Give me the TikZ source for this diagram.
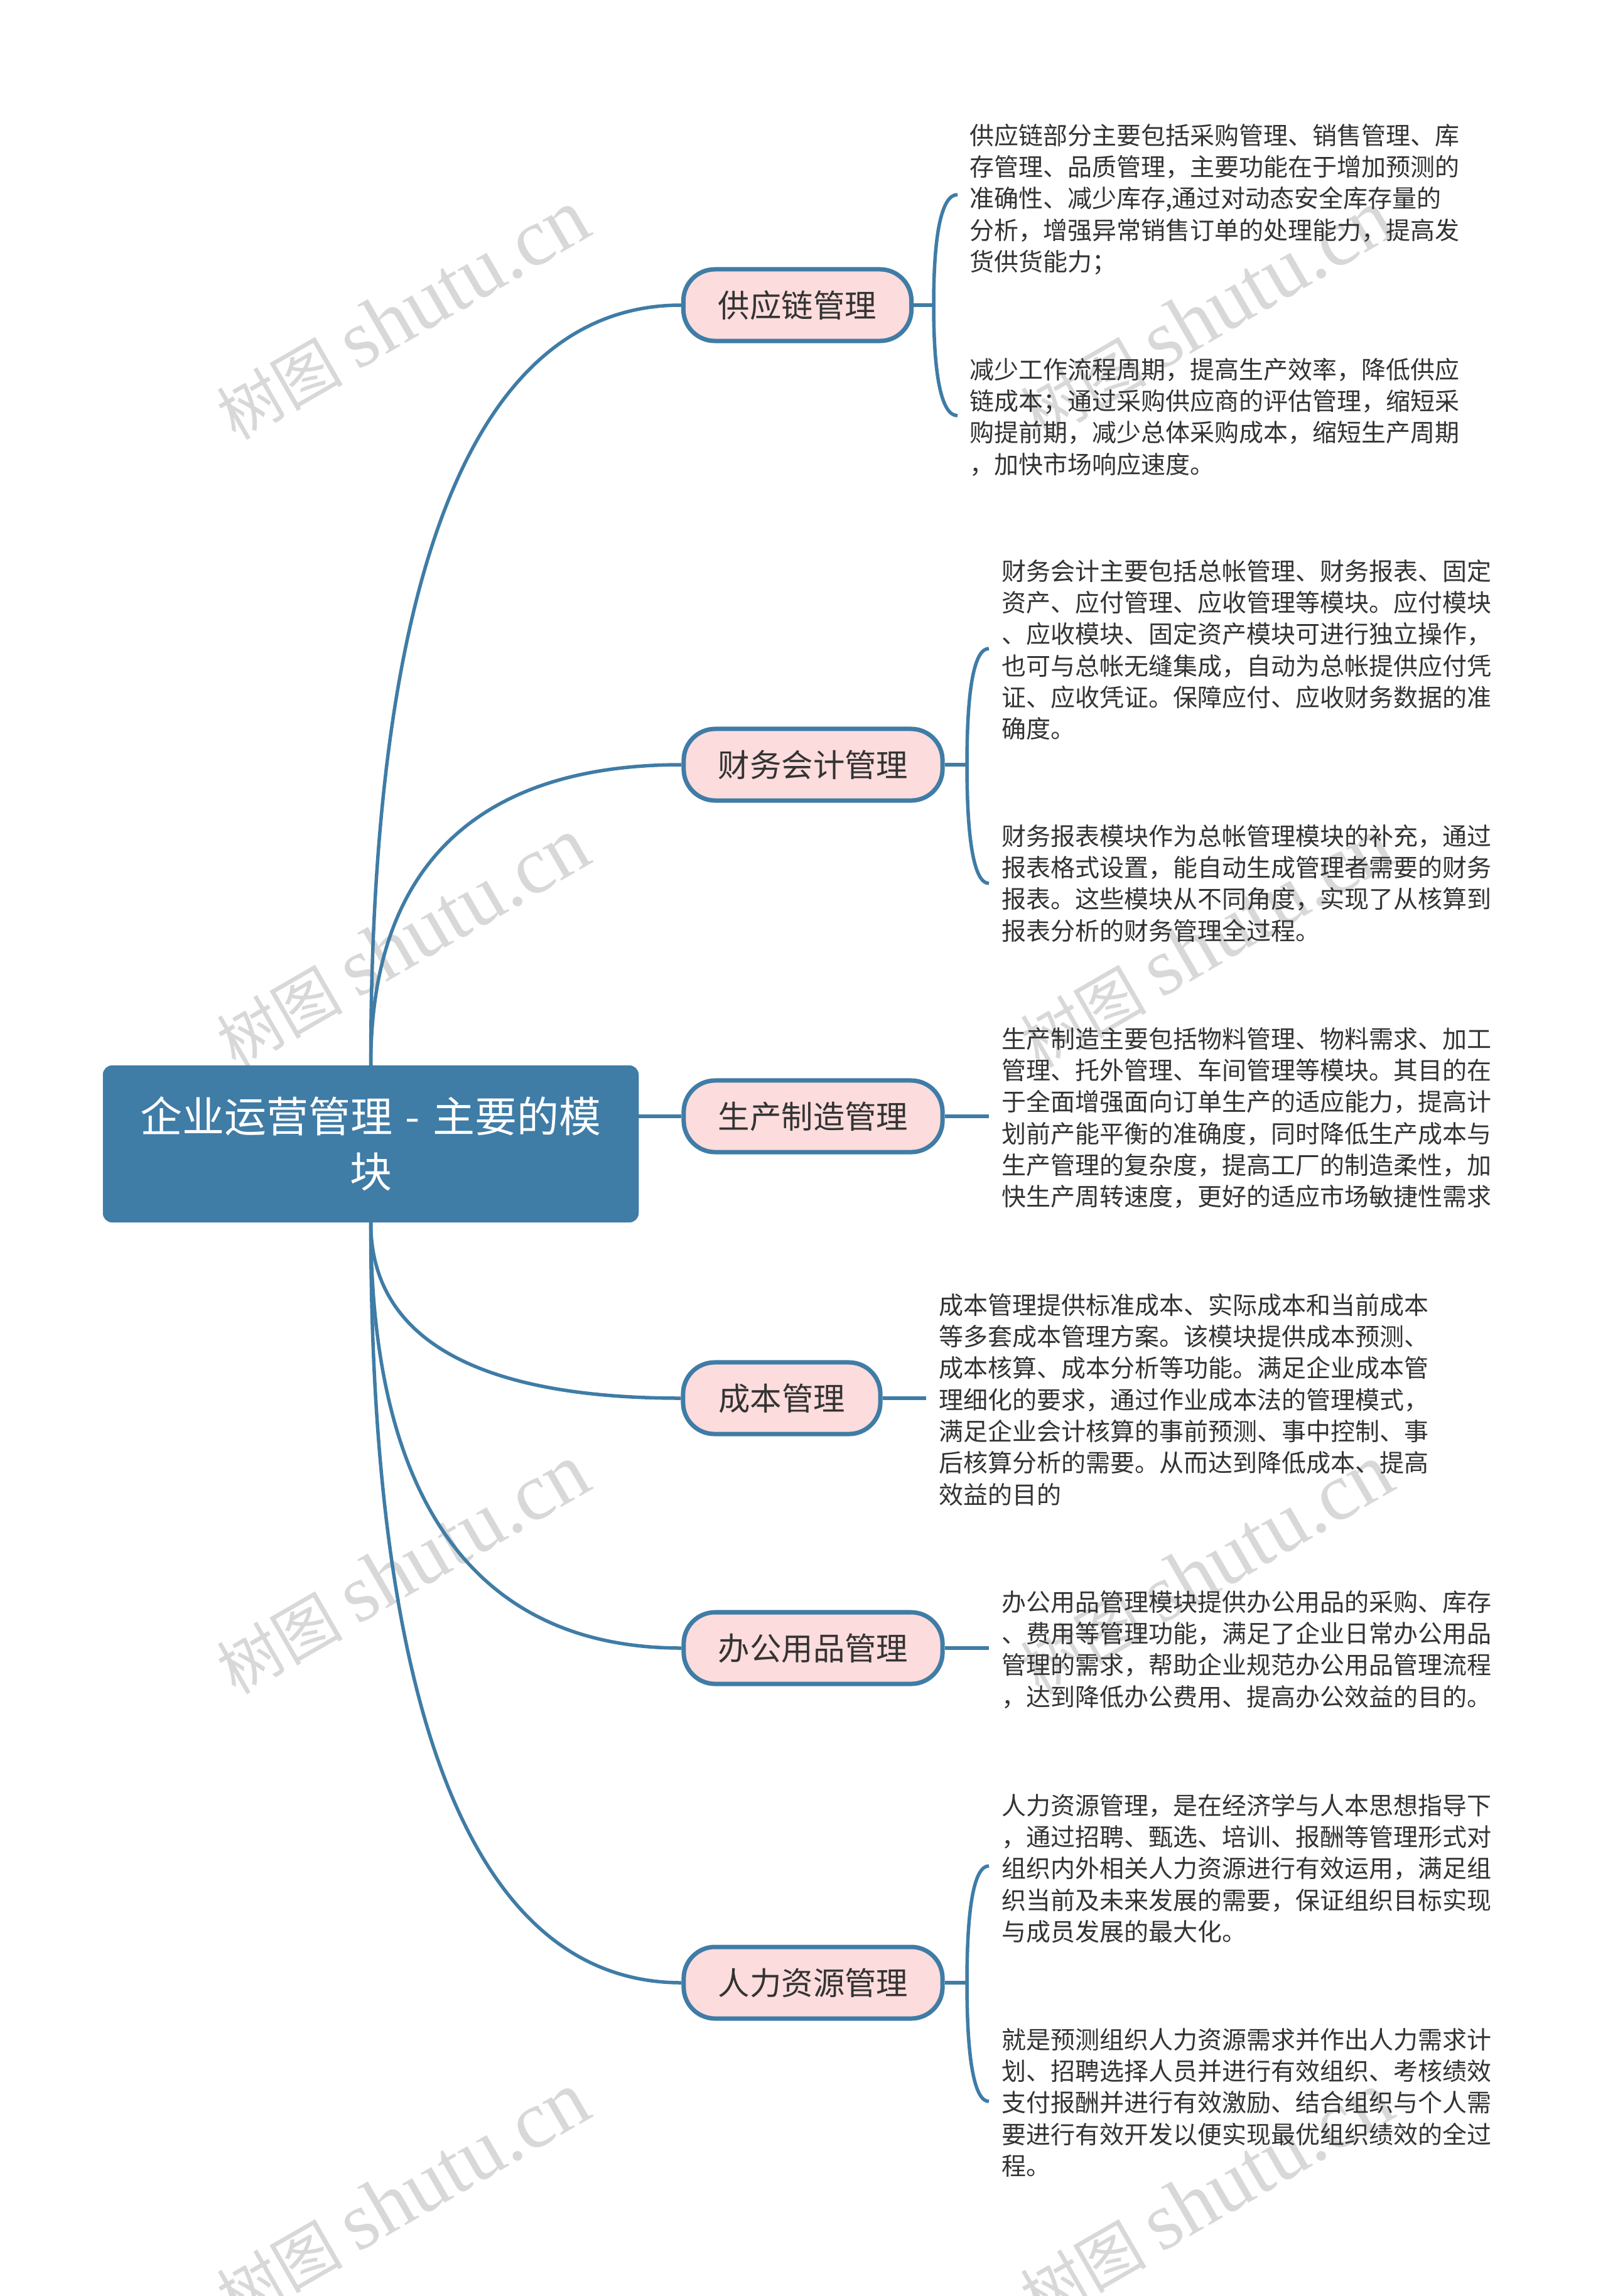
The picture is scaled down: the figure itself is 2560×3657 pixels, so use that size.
\documentclass[tikz,border=0pt]{standalone}
\usepackage{fontspec}
\setmainfont{Noto Sans CJK SC}
\newfontfamily\wmlatin{Liberation Serif}
\definecolor{linkblue}{HTML}{3F7CA6}
\definecolor{pinkfill}{HTML}{FCDCDC}
\definecolor{inkgrey}{HTML}{333333}
\definecolor{wmgrey}{HTML}{D8D8D8}
\newcommand{\firstline}{\rule{0pt}{12pt}}
\tikzset{
  rootbox/.style={rectangle,rounded corners=0.14cm,fill=linkblue,draw=linkblue,line width=0.02cm,
    minimum width=8.51cm,minimum height=2.48cm,inner sep=0pt,align=center,text=white,
    font=\fontsize{19.05pt}{25.04pt}\selectfont},
  branchbox/.style={rectangle,rounded corners=0.5cm,fill=pinkfill,draw=linkblue,line width=0.07cm,
    minimum height=1.14cm,inner sep=0pt,text=inkgrey,font=\fontsize{14.34pt}{18pt}\selectfont},
  leaftext/.style={anchor=north west,inner sep=0pt,outer sep=0pt,align=left,text=inkgrey,
    font=\fontsize{11.09pt}{14.31pt}\selectfont},
  curvelink/.style={draw=linkblue,line width=0.055cm},
  stublink/.style={draw=linkblue,line width=0.065cm},
  wmark/.style={anchor=base west,rotate=30,inner sep=0pt,text=wmgrey,font=\fontsize{28.6pt}{36pt}\selectfont},
}
\begin{document}
\begin{tikzpicture}[x=0.01cm,y=-0.01cm]
\useasboundingbox (0,0) rectangle (2560,3657);
\begin{scope}
\clip (0,0) rectangle (2560,3657);
\foreach \wx/\wn in {375/L,1655/R}{
  \foreach \wy/\wr in {703/a,1703/b,2701/c,3701/d}{
    \node[wmark,name=wm\wn\wr] at (\wx,\wy) {树图 {\wmlatin\fontsize{37pt}{40pt}\selectfont shutu.cn}};
  }
}
\end{scope}

\node[rootbox] (root) at (590.5,1822) {企业运营管理\hspace{0.05cm} - \hspace{0.05cm}主要的模\\块};

\node[branchbox,minimum width=3.63cm] (b1) at (1270,486) {供应链管理};
\node[branchbox,minimum width=4.12cm] (b2) at (1295,1218) {财务会计管理};
\node[branchbox,minimum width=4.12cm] (b3) at (1295,1778) {生产制造管理};
\node[branchbox,minimum width=3.14cm] (b4) at (1245,2227) {成本管理};
\node[branchbox,minimum width=4.12cm] (b5) at (1295,2625) {办公用品管理};
\node[branchbox,minimum width=4.12cm] (b6) at (1295,3158) {人力资源管理};

\node[leaftext] (l1a) at (1544,188) {\firstline 供应链部分主要包括采购管理、销售管理、库\\存管理、品质管理，主要功能在于增加预测的\\准确性、减少库存,通过对动态安全库存量的\\分析，增强异常销售订单的处理能力，提高发\\货供货能力；};
\node[leaftext] (l1b) at (1544,561) {\firstline 减少工作流程周期，提高生产效率，降低供应\\链成本；通过采购供应商的评估管理，缩短采\\购提前期，减少总体采购成本，缩短生产周期\\，加快市场响应速度。};
\node[leaftext] (l2a) at (1595,882) {\firstline 财务会计主要包括总帐管理、财务报表、固定\\资产、应付管理、应收管理等模块。应付模块\\、应收模块、固定资产模块可进行独立操作，\\也可与总帐无缝集成，自动为总帐提供应付凭\\证、应收凭证。保障应付、应收财务数据的准\\确度。};
\node[leaftext] (l2b) at (1595,1304) {\firstline 财务报表模块作为总帐管理模块的补充，通过\\报表格式设置，能自动生成管理者需要的财务\\报表。这些模块从不同角度，实现了从核算到\\报表分析的财务管理全过程。};
\node[leaftext] (l3) at (1595,1627) {\firstline 生产制造主要包括物料管理、物料需求、加工\\管理、托外管理、车间管理等模块。其目的在\\于全面增强面向订单生产的适应能力，提高计\\划前产能平衡的准确度，同时降低生产成本与\\生产管理的复杂度，提高工厂的制造柔性，加\\快生产周转速度，更好的适应市场敏捷性需求};
\node[leaftext] (l4) at (1495,2051) {\firstline 成本管理提供标准成本、实际成本和当前成本\\等多套成本管理方案。该模块提供成本预测、\\成本核算、成本分析等功能。满足企业成本管\\理细化的要求，通过作业成本法的管理模式，\\满足企业会计核算的事前预测、事中控制、事\\后核算分析的需要。从而达到降低成本、提高\\效益的目的};
\node[leaftext] (l5) at (1595,2524) {\firstline 办公用品管理模块提供办公用品的采购、库存\\、费用等管理功能，满足了企业日常办公用品\\管理的需求，帮助企业规范办公用品管理流程\\，达到降低办公费用、提高办公效益的目的。};
\node[leaftext] (l6a) at (1595,2848) {\firstline 人力资源管理，是在经济学与人本思想指导下\\，通过招聘、甄选、培训、报酬等管理形式对\\组织内外相关人力资源进行有效运用，满足组\\织当前及未来发展的需要，保证组织目标实现\\与成员发展的最大化。};
\node[leaftext] (l6b) at (1595,3221) {\firstline 就是预测组织人力资源需求并作出人力需求计\\划、招聘选择人员并进行有效组织、考核绩效\\支付报酬并进行有效激励、结合组织与个人需\\要进行有效开发以便实现最优组织绩效的全过\\程。};

% root to branches
\draw[curvelink] (root.north) .. controls +(0,-797) and +(-325,0) .. (b1.west);
\draw[curvelink] (root.north) .. controls +(0,-317) and +(-325,0) .. (b2.west);
\draw[stublink] (root.east |- b3.west) -- (b3.west);
\draw[curvelink] (root.south) .. controls +(0,185) and +(-325,0) .. (b4.west);
\draw[curvelink] (root.south) .. controls +(0,447) and +(-325,0) .. (b5.west);
\draw[curvelink] (root.south) .. controls +(0,799) and +(-325,0) .. (b6.west);

% brackets
\coordinate (j1) at (1487,486);
\coordinate (e1a) at (1525,310);
\coordinate (e1b) at (1525,662);
\draw[stublink] (b1.east) -- (j1);
\draw[curvelink] (j1) .. controls +(0,-116) and +(-25,0) .. (e1a);
\draw[curvelink] (j1) .. controls +(0,116) and +(-25,0) .. (e1b);

\coordinate (j2) at (1540,1218);
\coordinate (e2a) at (1575,1033);
\coordinate (e2b) at (1575,1407);
\draw[stublink] (b2.east) -- (j2);
\draw[curvelink] (j2) .. controls +(0,-124) and +(-23,0) .. (e2a);
\draw[curvelink] (j2) .. controls +(0,124) and +(-23,0) .. (e2b);

\coordinate (e3) at (1575,1778);
\draw[stublink] (b3.east) -- (e3);
\coordinate (e4) at (1475,2227);
\draw[stublink] (b4.east) -- (e4);
\coordinate (e5) at (1575,2625);
\draw[stublink] (b5.east) -- (e5);

\coordinate (j6) at (1540,3158);
\coordinate (e6a) at (1575,2972);
\coordinate (e6b) at (1575,3347);
\draw[stublink] (b6.east) -- (j6);
\draw[curvelink] (j6) .. controls +(0,-124) and +(-23,0) .. (e6a);
\draw[curvelink] (j6) .. controls +(0,124) and +(-23,0) .. (e6b);
\end{tikzpicture}
\end{document}
